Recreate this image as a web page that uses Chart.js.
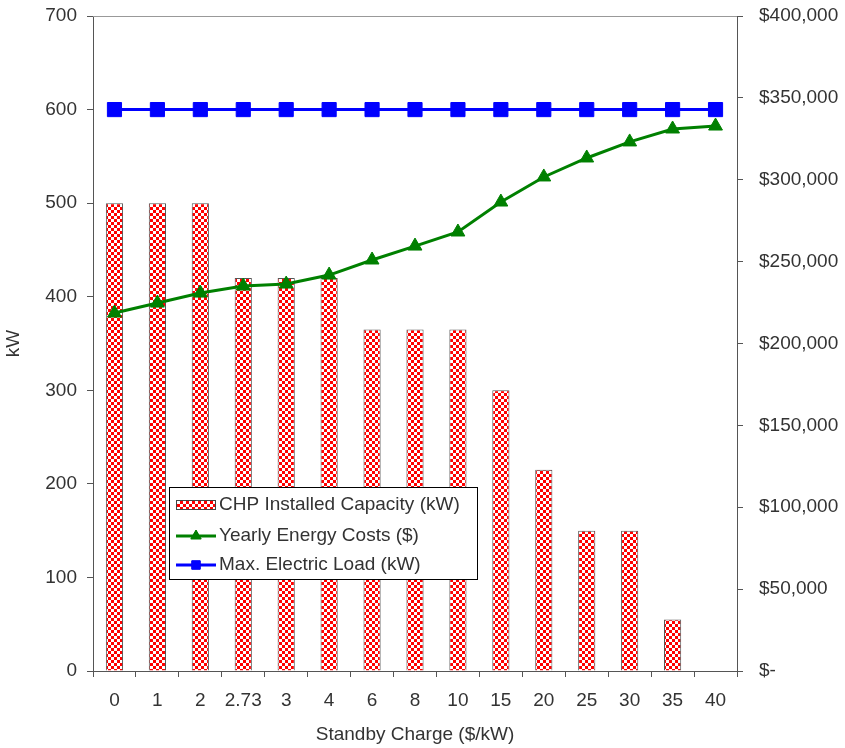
<!DOCTYPE html>
<html>
<head>
<meta charset="utf-8">
<script src="https://cdn.jsdelivr.net/npm/chart.js@4/dist/chart.umd.min.js"></script>
<style>
  html, body { margin: 0; padding: 0; background: #fff; }
  #wrap { width: 845px; height: 748px; position: relative; }
</style>
</head>
<body>
<div id="wrap"><canvas id="chart"></canvas></div>
<script>
const standbyCharges = ["0", "1", "2", "2.73", "3", "4", "6", "8", "10", "15", "20", "25", "30", "35", "40"];
const chpCapacity = [500, 500, 500, 420, 420, 420, 365, 365, 365, 300, 215, 150, 150, 55, 0];
const yearlyCosts = [218600, 224700, 230800, 235100, 236300, 241800, 251000, 259500, 268100, 286400, 301700, 313300, 323100, 331000, 332800];
const maxElectricLoad = [600, 600, 600, 600, 600, 600, 600, 600, 600, 600, 600, 600, 600, 600, 600];

const FONT = "'Liberation Sans', Arial, sans-serif";
const TEXT = "#333";
const AXIS = "#555";

// red checkered fill like the old excel pattern
const makePattern = () => {
    const c = document.createElement("canvas");
    c.width = 6;
    c.height = 6;
    const g = c.getContext("2d");
    g.fillStyle = "#ff0000";
    g.fillRect(0, 0, 6, 6);
    g.fillStyle = "#ffffff";
    g.fillRect(0, 0, 3, 3);
    g.fillRect(3, 3, 3, 3);
    return g.createPattern(c, "repeat");
};
const checker = makePattern();

const moneyFmt = (v) => (v === 0 ? "$-" : "$" + v.toLocaleString("en-US"));

// keep the plot box where the reference has it
const fixBox = (size, key) => (s) => {
    s[key] = size;
    s.paddingTop = 0;
    s.paddingBottom = 0;
    s.paddingLeft = 0;
    s.paddingRight = 0;
};

// top frame line + legend box inside the plot area
const extras = {
    id: "extras",
    afterDraw(chart) {
        const ctx = chart.ctx;
        const area = chart.chartArea;
        ctx.save();
        ctx.strokeStyle = "#999";
        ctx.lineWidth = 1;
        ctx.beginPath();
        ctx.moveTo(area.left, area.top + 0.5);
        ctx.lineTo(area.right, area.top + 0.5);
        ctx.stroke();

        const box = { x: 169.5, y: 487.5, w: 308, h: 92 };
        ctx.fillStyle = "#fff";
        ctx.fillRect(box.x, box.y, box.w, box.h);
        ctx.strokeStyle = "#000";
        ctx.strokeRect(box.x, box.y, box.w, box.h);

        const rows = [505, 536, 565];
        const sx = 176, sw = 40;
        ctx.font = "19px " + FONT;
        ctx.textBaseline = "middle";
        ctx.textAlign = "left";
        chart.data.datasets.forEach((ds, i) => {
            const y = rows[i];
            if (ds.type === "bar") {
                ctx.fillStyle = checker;
                ctx.fillRect(sx, y - 5, sw, 10);
                ctx.strokeStyle = "#444";
                ctx.strokeRect(sx + 0.5, y - 4.5, sw - 1, 9);
            } else {
                ctx.strokeStyle = ds.borderColor;
                ctx.lineWidth = 3;
                ctx.beginPath();
                ctx.moveTo(sx, y);
                ctx.lineTo(sx + sw, y);
                ctx.stroke();
                ctx.lineWidth = 1;
                Chart.helpers.drawPoint(ctx, {
                    pointStyle: ds.pointStyle,
                    radius: 6,
                    borderWidth: 1,
                }, sx + sw / 2, y);
                ctx.fillStyle = ds.borderColor;
                ctx.fill();
            }
            ctx.fillStyle = TEXT;
            ctx.fillText(ds.label, 219, y);
        });
        ctx.restore();
    },
};

new Chart(document.getElementById("chart"), {
    type: "bar",
    plugins: [extras],
    data: {
        labels: standbyCharges,
        datasets: [
            {
                type: "bar",
                label: "CHP Installed Capacity (kW)",
                data: chpCapacity,
                backgroundColor: checker,
                borderColor: "#555",
                borderWidth: 1,
                yAxisID: "y",
                order: 3,
                barPercentage: 0.4,
                categoryPercentage: 1,
            },
            {
                type: "line",
                label: "Yearly Energy Costs ($)",
                data: yearlyCosts,
                borderColor: "#008000",
                backgroundColor: "#008000",
                borderWidth: 3,
                pointStyle: "triangle",
                pointRadius: 8,
                pointBorderWidth: 1,
                yAxisID: "y2",
                order: 2,
            },
            {
                type: "line",
                label: "Max. Electric Load (kW)",
                data: maxElectricLoad,
                borderColor: "#0000ff",
                backgroundColor: "#0000ff",
                borderWidth: 3,
                pointStyle: "rect",
                pointRadius: 10,
                pointBorderWidth: 1,
                yAxisID: "y",
                order: 1,
            },
        ],
    },
    options: {
        responsive: true,
        maintainAspectRatio: false,
        animation: false,
        layout: { padding: { top: 16, left: 0, right: 0, bottom: 0 } },
        plugins: {
            legend: { display: false },
            tooltip: { enabled: false },
        },
        scales: {
            x: {
                offset: true,
                grid: { display: true, offset: true, drawOnChartArea: false, tickLength: 6, color: AXIS },
                border: { display: true, color: AXIS },
                ticks: { color: TEXT, font: { family: FONT, size: 19 }, padding: 12, maxRotation: 0, autoSkip: false },
                title: { display: true, text: "Standby Charge ($/kW)", color: TEXT, font: { family: FONT, size: 19 }, padding: { top: 0, bottom: 2 } },
                afterFit: fixBox(77, "height"),
            },
            y: {
                position: "left",
                min: 0,
                max: 700,
                grid: { drawOnChartArea: false, tickLength: 6, color: AXIS },
                border: { display: true, color: AXIS },
                ticks: { stepSize: 100, color: TEXT, font: { family: FONT, size: 19 }, padding: 10 },
                title: { display: true, text: "kW", color: TEXT, font: { family: FONT, size: 19 }, padding: { top: 2, bottom: 0 } },
                afterFit: fixBox(93, "width"),
            },
            y2: {
                position: "right",
                min: 0,
                max: 400000,
                grid: { drawOnChartArea: false, tickLength: 6, color: AXIS },
                border: { display: true, color: AXIS },
                ticks: { stepSize: 50000, color: TEXT, font: { family: FONT, size: 19 }, padding: 16, callback: moneyFmt },
                afterFit: fixBox(108, "width"),
            },
        },
    },
});
</script>
</body>
</html>
